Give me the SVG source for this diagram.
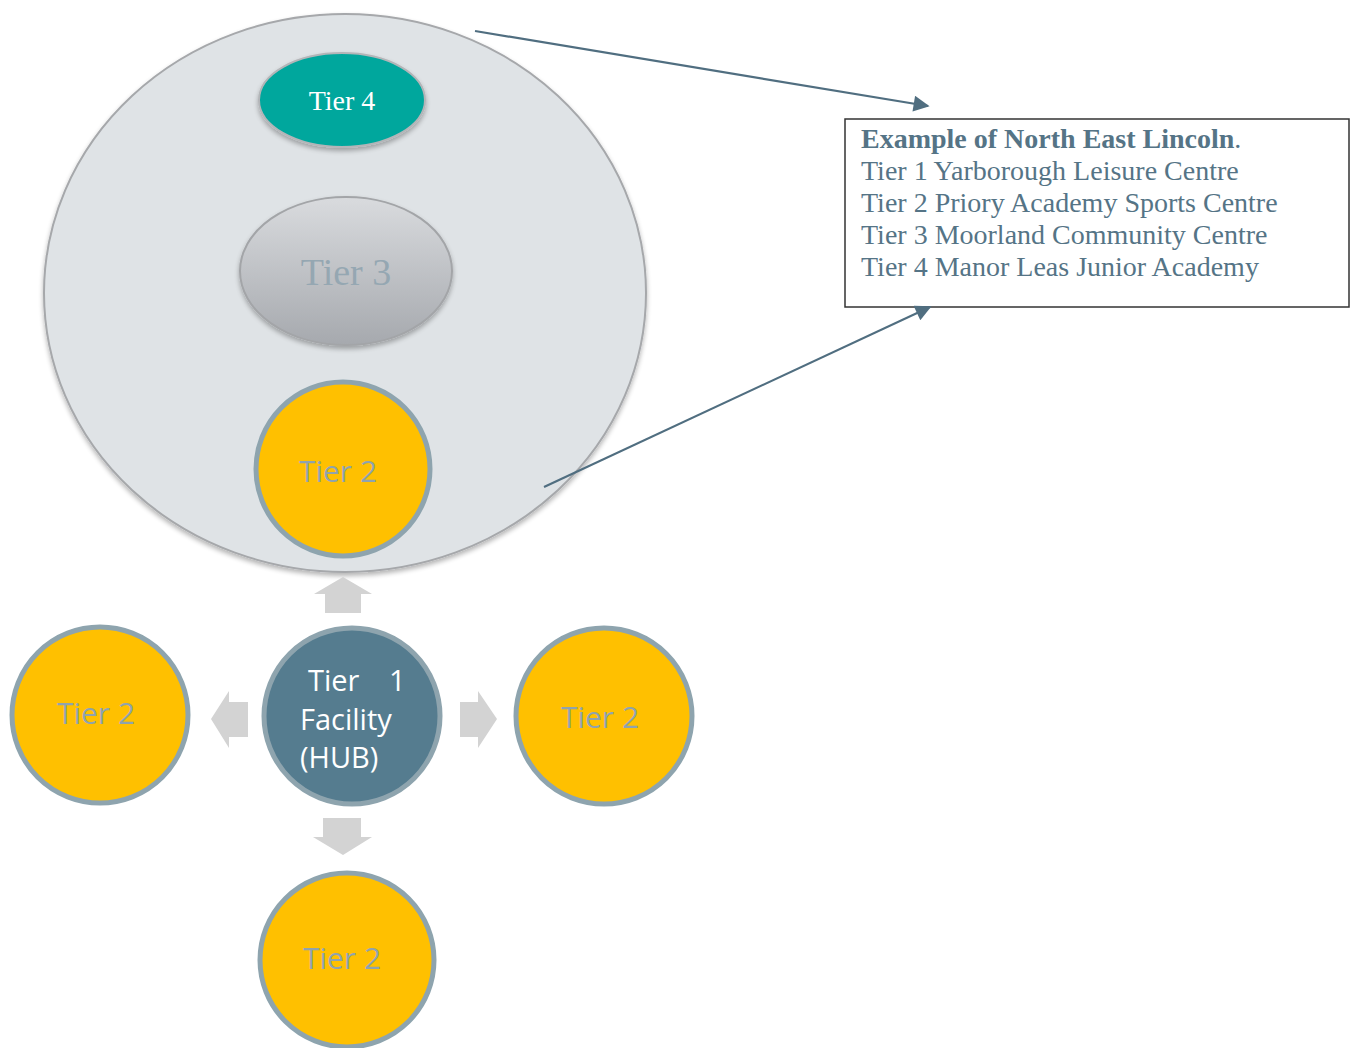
<svg xmlns="http://www.w3.org/2000/svg" width="1356" height="1048" viewBox="0 0 1356 1048">
  <defs>
    <linearGradient id="tier3Fill" x1="0" y1="0" x2="0" y2="1">
      <stop offset="0" stop-color="#d9dbde"/>
      <stop offset="1" stop-color="#a6a9ae"/>
    </linearGradient>
    <filter id="softShadow" x="-10%" y="-10%" width="120%" height="125%">
      <feGaussianBlur in="SourceAlpha" stdDeviation="2.5"/>
      <feOffset dx="0" dy="3" result="blur"/>
      <feComponentTransfer><feFuncA type="linear" slope="0.3"/></feComponentTransfer>
      <feMerge><feMergeNode/><feMergeNode in="SourceGraphic"/></feMerge>
    </filter>
    <marker id="arrowHeadLg" viewBox="0 0 10 10" refX="9" refY="5" markerWidth="18" markerHeight="16" markerUnits="userSpaceOnUse" orient="auto">
      <path d="M0,0 L10,5 L0,10 Z" fill="#506e80"/>
    </marker>
  </defs>
  <style>
    .tier2 { fill: #ffc000; stroke: #8ea4ae; stroke-width: 5; }
    .tier2Label { font-family: "Open Sans", "Liberation Sans", sans-serif; font-size: 30px; fill: #8fa3ae; text-anchor: middle; }
    .hubLabel { font-family: "Open Sans", "Liberation Sans", sans-serif; font-size: 29px; fill: #ffffff; }
    .blockArrow { fill: #d3d3d3; }
    .connector { stroke: #506e80; stroke-width: 2.2; fill: none; }
    .legend { font-family: "Liberation Serif", "Times New Roman", serif; font-size: 28px; fill: #557486; }
  </style>

  <rect width="1356" height="1048" fill="#ffffff"/>

  <!-- outer tier container -->
  <g id="tier-container">
    <ellipse cx="345" cy="293" rx="301" ry="279" fill="#dfe3e6" stroke="#a6a8ab" stroke-width="2" filter="url(#softShadow)"/>
  </g>

  <g id="tier4">
    <ellipse cx="342" cy="100" rx="83" ry="47" fill="#00a79d" stroke="#b3b5b8" stroke-width="2" filter="url(#softShadow)"/>
    <text x="342" y="110" font-family="Liberation Serif, serif" font-size="28" fill="#ffffff" text-anchor="middle">Tier 4</text>
  </g>

  <g id="tier3">
    <ellipse cx="346" cy="271" rx="106" ry="74" fill="url(#tier3Fill)" stroke="#a3a5a8" stroke-width="2" filter="url(#softShadow)"/>
    <text x="346" y="285" font-family="Liberation Serif, serif" font-size="38" fill="#95a7b2" text-anchor="middle">Tier 3</text>
  </g>

  <g id="tier2-top">
    <circle class="tier2" cx="343" cy="469" r="87"/>
    <text class="tier2Label" x="338" y="482">Tier 2</text>
  </g>

  <g id="hub">
    <circle cx="352" cy="716" r="88" fill="#557c8f" stroke="#8ea4ae" stroke-width="5"/>
    <text class="hubLabel" x="308" y="691">Tier</text>
    <text class="hubLabel" x="389" y="691">1</text>
    <text class="hubLabel" x="300" y="730">Facility</text>
    <text class="hubLabel" x="300" y="768">(HUB)</text>
  </g>

  <g id="tier2-left">
    <circle class="tier2" cx="100" cy="715" r="88"/>
    <text class="tier2Label" x="96" y="724">Tier 2</text>
  </g>

  <g id="tier2-right">
    <circle class="tier2" cx="604" cy="716" r="88"/>
    <text class="tier2Label" x="600" y="728">Tier 2</text>
  </g>

  <g id="tier2-bottom">
    <circle class="tier2" cx="347" cy="960" r="87"/>
    <text class="tier2Label" x="342" y="969">Tier 2</text>
  </g>

  <g id="legend">
    <rect x="845" y="119" width="504" height="188" fill="#ffffff" stroke="#333333" stroke-width="1.5"/>
    <text class="legend" x="861" y="148"><tspan font-weight="bold">Example of North East Lincoln</tspan>.</text>
    <text class="legend" x="861" y="180">Tier 1 Yarborough Leisure Centre</text>
    <text class="legend" x="861" y="212">Tier 2 Priory Academy Sports Centre</text>
    <text class="legend" x="861" y="244">Tier 3 Moorland Community Centre</text>
    <text class="legend" x="861" y="276">Tier 4 Manor Leas Junior Academy</text>
  </g>

  <g id="connectors">
    <!-- block arrows radiating from the hub -->
    <polygon class="blockArrow" points="343,577 372,594 361,594 361,613 325,613 325,594 314,594"/>
    <polygon class="blockArrow" points="211,719 229,691 229,702 248,702 248,737 229,737 229,748"/>
    <polygon class="blockArrow" points="497,719 478,691 478,702 460,702 460,737 478,737 478,748"/>
    <polygon class="blockArrow" points="343,855 372,837 361,837 361,818 323,818 323,837 313,837"/>
    <!-- callout lines to the legend -->
    <line class="connector" x1="475" y1="31" x2="928" y2="106" marker-end="url(#arrowHeadLg)"/>
    <line class="connector" x1="544" y1="487" x2="930" y2="307" marker-end="url(#arrowHeadLg)"/>
  </g>
</svg>
